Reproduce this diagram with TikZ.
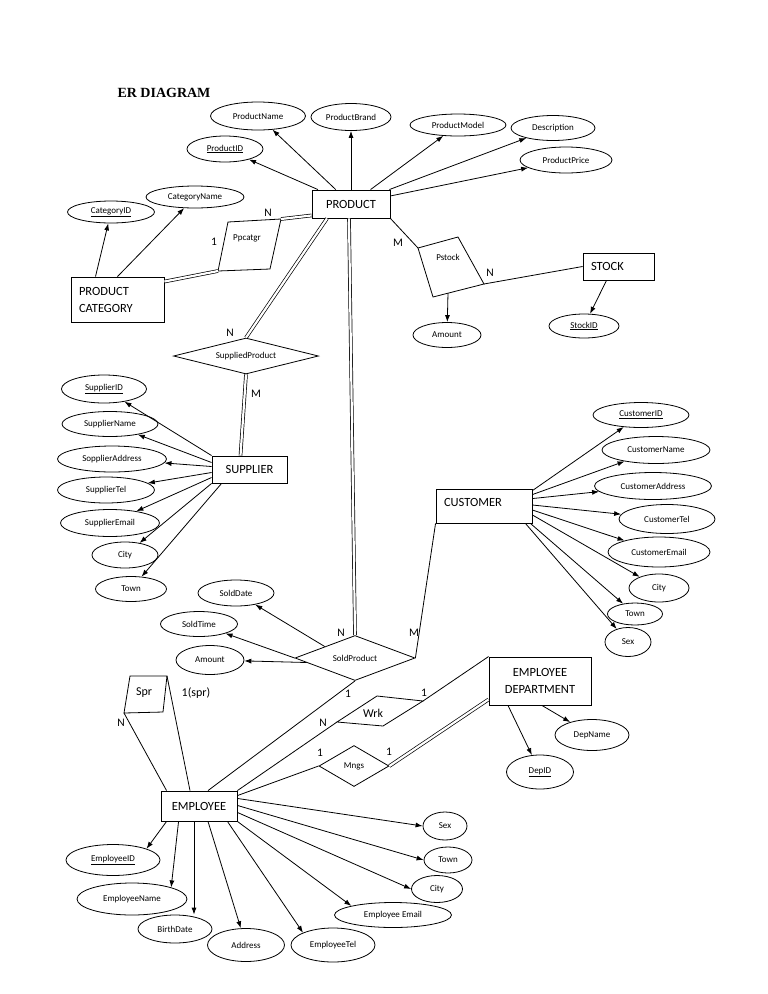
\documentclass[tikz,border=0pt]{standalone}
\usepackage{fontspec}
\setmainfont{Carlito}
\newfontfamily\titlefont{Liberation Serif}
\usetikzlibrary{positioning,arrows.meta,shapes.geometric}

\begin{document}
\begin{tikzpicture}[x=1pt,y=-1pt,
  entity/.style={rectangle,draw,line width=0.9pt,inner sep=0pt,font=\fontsize{12.5}{17}\selectfont},
  attr/.style={ellipse,draw,line width=0.8pt,inner sep=0pt,font=\fontsize{9}{10}\selectfont},
  rel/.style={diamond,draw,line width=0.8pt,inner sep=1pt,font=\fontsize{9}{10}\selectfont},
  reltext/.style={inner sep=0pt,font=\fontsize{9}{10}\selectfont},
  card/.style={inner sep=1pt,font=\fontsize{11.5}{13}\selectfont},
  arr/.style={-{Latex[length=7pt,width=5pt]},line width=0.8pt},
  link/.style={line width=0.8pt},
  dbl/.style={double,double distance=2.2pt,line width=0.7pt},
]
\useasboundingbox (0,0) rectangle (768,994);

\node[font=\titlefont\bfseries\fontsize{14}{16}\selectfont] (title) at (164,93) {ER DIAGRAM};

% Product and its attributes
\node[entity,minimum width=78,minimum height=28] (product) at (351,204) {PRODUCT};
\node[attr,minimum width=76,minimum height=26] (pid) at (225,149) {\underline{ProductID}};
\node[attr,minimum width=95,minimum height=28] (pname) at (258,116) {ProductName};
\node[attr,minimum width=80,minimum height=27] (pbrand) at (351,117) {ProductBrand};
\node[attr,minimum width=96,minimum height=22] (pmodel) at (458,125) {ProductModel};
\node[attr,minimum width=84,minimum height=25] (pdesc) at (553,128) {Description};
\node[attr,minimum width=92,minimum height=26] (pprice) at (566,160) {ProductPrice};
\foreach \a in {pid,pname,pbrand,pmodel,pdesc,pprice}
  \draw[arr] (product) -- (\a);

% Product category
\node[entity,minimum width=93,minimum height=45,text width=77,align=left] (pcat) at (117.5,299.5) {PRODUCT\\CATEGORY};
\node[attr,minimum width=87,minimum height=22] (catid) at (111,212) {\underline{CategoryID}};
\node[attr,minimum width=98,minimum height=22] (catname) at (195,197) {CategoryName};
\draw[arr] ([xshift=-22]pcat.north) -- (catid);
\draw[arr] (pcat.north) -- (catname);

% Ppcatgr
\coordinate (ppc-nw) at (228,222);
\coordinate (ppc-ne) at (281,219);
\coordinate (ppc-se) at (270,269);
\coordinate (ppc-sw) at (218,271);
\draw[link] (ppc-nw) -- (ppc-ne) -- (ppc-se) -- (ppc-sw) -- cycle;
\node[reltext] (ppcatgr) at (247,238) {Ppcatgr};
\draw[dbl] (ppc-ne) -- ([yshift=3]product.south west);
\draw[dbl] (ppc-sw) -- ([yshift=-5]pcat.north east);
\node[card] (ppc-n) at (268,213) {N};
\node[card] (ppc-1) at (214,242) {1};

% Pstock and stock
\coordinate (pst-w) at (418,248);
\coordinate (pst-n) at (458,237);
\coordinate (pst-e) at (484,284);
\coordinate (pst-s) at (433,297);
\coordinate (pst-b) at (448,293);
\draw[link] (pst-w) -- (pst-n) -- (pst-e) -- (pst-s) -- cycle;
\node[reltext] (pstock) at (448,257) {Pstock};
\node[entity,minimum width=71,minimum height=27,text width=55,align=left] (stock) at (618.5,266.5) {STOCK};
\node[attr,minimum width=70,minimum height=24] (stockid) at (584,326) {\underline{StockID}};
\node[attr,minimum width=68,minimum height=25] (pamount) at (447,335) {Amount};
\draw[link] (product.south east) -- (pst-w);
\draw[link] (pst-e) -- (stock.west);
\draw[arr] ([xshift=-12]stock.south) -- (stockid);
\draw[arr] (pst-b) -- (pamount);
\node[card] (pst-m) at (398,243) {M};
\node[card] (pst-nn) at (490,273) {N};

% Supplied product and supplier
\node[rel,aspect=4,minimum width=145,minimum height=36] (supplied) at (246,356) {SuppliedProduct};
\node[entity,minimum width=75,minimum height=27] (supplier) at (249.5,469.5) {SUPPLIER};
\draw[dbl] (supplied.north) -- ([xshift=-24]product.south);
\draw[dbl] (supplied.south) -- ([xshift=-9]supplier.north);
\node[card] (sup-n) at (230,333) {N};
\node[card] (sup-m) at (256,394) {M};

\node[attr,minimum width=85,minimum height=28] (sid) at (104,389) {\underline{SupplierID}};
\node[attr,minimum width=96,minimum height=25] (sname) at (110,424) {SupplierName};
\node[attr,minimum width=109,minimum height=26] (saddr) at (112,459) {SopplierAddress};
\node[attr,minimum width=97,minimum height=26] (stel) at (106,490) {SupplierTel};
\node[attr,minimum width=99,minimum height=27] (semail) at (110,523) {SupplierEmail};
\node[attr,minimum width=66,minimum height=26] (scity) at (125,555) {City};
\node[attr,minimum width=71,minimum height=25] (stown) at (131,589) {Town};
\draw[arr] (supplier.north west) -- (sid);
\draw[arr] ([yshift=7]supplier.west) -- (sname);
\draw[arr] ([yshift=3]supplier.west) -- (saddr);
\draw[arr] ([yshift=-3]supplier.west) -- (stel);
\draw[arr] ([yshift=-8]supplier.west) -- (semail);
\draw[arr] (supplier.south west) -- (scity);
\draw[arr] ([xshift=10]supplier.south west) -- (stown);

% Customer
\node[entity,minimum width=96,minimum height=34,text width=80,text depth=7pt,align=left] (customer) at (484,506) {CUSTOMER};
\node[attr,minimum width=96,minimum height=25] (cid) at (641,415) {\underline{CustomerID}};
\node[attr,minimum width=108,minimum height=27] (cname) at (656,450) {CustomerName};
\node[attr,minimum width=117,minimum height=27] (caddr) at (653,486) {CustomerAddress};
\node[attr,minimum width=96,minimum height=29] (ctel) at (667,519) {CustomerTel};
\node[attr,minimum width=102,minimum height=30] (cemail) at (659,552) {CustomerEmail};
\node[attr,minimum width=60,minimum height=28] (ccity) at (659,588) {City};
\node[attr,minimum width=55,minimum height=22] (ctown) at (635,614) {Town};
\node[attr,minimum width=46,minimum height=29] (csex) at (628,642) {Sex};
\draw[arr] (customer.north east) ++(0,2) -- (cid);
\draw[arr] (customer.north east) ++(0,6) -- (cname);
\draw[arr] (customer.north east) ++(0,10) -- (caddr);
\draw[arr] (customer.east) ++(0,-1) -- (ctel);
\draw[arr] (customer.east) ++(0,4) -- (cemail);
\draw[arr] (customer.east) ++(0,9) -- (ccity);
\draw[arr] (customer.south east) ++(-2,0) -- (ctown);
\draw[arr] (customer.south east) ++(-7,0) -- (csex);

% Sold product
\node[rel,aspect=2.7,minimum width=120,minimum height=45] (sold) at (355,658) {SoldProduct};
\draw[dbl] (sold.north) -- ([xshift=-2]product.south);
\draw[link] (sold.east) -- (customer.south west);
\node[card] (sold-n) at (341,633) {N};
\node[card] (sold-m) at (414,633) {M};
\node[attr,minimum width=76,minimum height=26] (solddate) at (236,593) {SoldDate};
\node[attr,minimum width=77,minimum height=25] (soldtime) at (199,624) {SoldTime};
\node[attr,minimum width=68,minimum height=29] (samount) at (210,660) {Amount};
\draw[arr] (sold.north west) -- (solddate);
\draw[arr] (sold.west) -- (soldtime);
\draw[arr] (sold.west) ++(12,4.5) -- (samount);

% Employee department
\node[entity,minimum width=102,minimum height=48,align=center] (dept) at (540,681) {EMPLOYEE\\DEPARTMENT};
\node[attr,minimum width=74,minimum height=31] (depname) at (592,735) {DepName};
\node[attr,minimum width=67,minimum height=34] (depid) at (540,772) {\underline{DepID}};
\draw[arr] ([xshift=-32]dept.south) -- (depid);
\draw[arr] ([xshift=2]dept.south) -- (depname);

% Employee
\node[entity,minimum width=76,minimum height=30] (employee) at (199,806) {EMPLOYEE};
\draw[link] (sold.south) -- ([xshift=9]employee.north);
\node[card] (sold-1) at (348,694) {1};

% Wrk
\coordinate (wrk-w) at (337,722);
\coordinate (wrk-n) at (377,696);
\coordinate (wrk-e) at (423,701);
\coordinate (wrk-s) at (383,726);
\draw[link] (wrk-w) -- (wrk-n) -- (wrk-e) -- (wrk-s) -- cycle;
\node[inner sep=0pt,font=\fontsize{12}{14}\selectfont] (wrk) at (373,713) {Wrk};
\draw[link] (wrk-e) -- (dept.north west);
\draw[link] (employee.north east) -- (wrk-w);
\node[card] (wrk-1) at (424,693) {1};
\node[card] (wrk-nn) at (323,723) {N};

% Mngs
\node[rel,aspect=1.7,minimum width=70,minimum height=41] (mngs) at (354,766) {Mngs};
\draw[link] (employee.north east) ++(0,5) -- (mngs.west);
\draw[dbl] (mngs.east) -- ([yshift=6]dept.south west);
\node[card] (mngs-1a) at (320,753) {1};
\node[card] (mngs-1b) at (389,752) {1};

% Spr
\coordinate (spr-nw) at (130,676);
\coordinate (spr-ne) at (167,676);
\coordinate (spr-se) at (163,712);
\coordinate (spr-sw) at (124,713);
\draw[link] (spr-nw) -- (spr-ne) -- (spr-se) -- (spr-sw) -- cycle;
\node[inner sep=0pt,font=\fontsize{12}{14}\selectfont] (spr) at (144,693) {Spr};
\draw[link] (spr-sw) -- ([xshift=6]employee.north west);
\draw[link] (spr-ne) -- ([xshift=-9]employee.north);
\node[card,font=\fontsize{12}{14}\selectfont] (spr-1) at (196,693) {1(spr)};
\node[card] (spr-n) at (121,723) {N};

% Employee attributes
\node[attr,minimum width=94,minimum height=31] (eid) at (113,860) {\underline{EmployeeID}};
\node[attr,minimum width=110,minimum height=32] (ename) at (132,899) {EmployeeName};
\node[attr,minimum width=74,minimum height=28] (ebirth) at (175,929) {BirthDate};
\node[attr,minimum width=77,minimum height=33] (eaddr) at (246,945) {Address};
\node[attr,minimum width=84,minimum height=34] (etel) at (333,945) {EmployeeTel};
\node[attr,minimum width=117,minimum height=25] (eemail) at (393,915) {Employee Email};
\node[attr,minimum width=51,minimum height=27] (ecity) at (437,889) {City};
\node[attr,minimum width=48,minimum height=26] (etown) at (448,860) {Town};
\node[attr,minimum width=44,minimum height=28] (esex) at (445,826) {Sex};
\draw[arr] (employee.south west) ++(6,0) -- (eid.north east);
\draw[arr] (employee.south west) ++(18,0) -- (ename.north east);
\draw[arr] ([xshift=-5]employee.south) -- ([xshift=19]ebirth.north);
\draw[arr] ([xshift=9]employee.south) -- (eaddr);
\draw[arr] ([xshift=-10]employee.south east) -- (etel.north west);
\draw[arr] (employee.south east) -- (eemail.north west);
\draw[arr] (employee.south east) ++(0,-9) -- (ecity.west);
\draw[arr] (employee.south east) ++(0,-16) -- (etown.west);
\draw[arr] (employee.south east) ++(0,-23) -- (esex.west);

\end{tikzpicture}
\end{document}
